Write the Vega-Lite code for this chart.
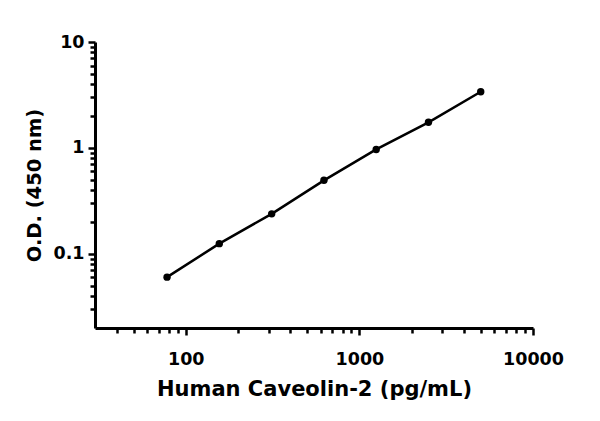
{
  "$schema": "https://vega.github.io/schema/vega-lite/v6.json",
  "autosize": {"type": "none"},
  "width": 438,
  "height": 286,
  "padding": {"left": 95, "top": 42, "right": 67, "bottom": 93},
  "background": "white",
  "config": {
    "view": {"stroke": null},
    "font": "DejaVu Sans"
  },
  "data": {
    "values": [
      {"conc": 78, "od": 0.0604},
      {"conc": 156, "od": 0.125},
      {"conc": 312.5, "od": 0.239},
      {"conc": 625, "od": 0.495},
      {"conc": 1250, "od": 0.968},
      {"conc": 2500, "od": 1.746},
      {"conc": 5000, "od": 3.39}
    ]
  },
  "encoding": {
    "x": {
      "field": "conc",
      "type": "quantitative",
      "title": "Human Caveolin-2 (pg/mL)",
      "scale": {"type": "log", "domain": [30, 10000], "nice": false},
      "axis": {
        "values": [40, 50, 60, 70, 80, 90, 100, 200, 300, 400, 500, 600, 700, 800, 900, 1000, 2000, 3000, 4000, 5000, 6000, 7000, 8000, 9000, 10000],
        "labelExpr": "indexof([100, 1000, 10000], datum.value) >= 0 ? format(datum.value, '~g') : ''",
        "labelOverlap": false,
        "labelBound": false,
        "labelFlush": false,
        "grid": false,
        "domainColor": "black",
        "domainWidth": 3,
        "tickColor": "black",
        "tickWidth": 2.5,
        "tickSize": {"condition": {"test": "indexof([100, 1000, 10000], datum.value) >= 0", "value": 7}, "value": 5},
        "labelPadding": 15,
        "labelFontSize": 17.5,
        "labelFontWeight": "bold",
        "labelColor": "black",
        "titleFontSize": 21,
        "titleFontWeight": "bold",
        "titleColor": "black",
        "titlePadding": 11
      }
    },
    "y": {
      "field": "od",
      "type": "quantitative",
      "title": "O.D. (450 nm)",
      "scale": {"type": "log", "domain": [0.02, 10], "nice": false},
      "axis": {
        "values": [0.03, 0.04, 0.05, 0.06, 0.07, 0.08, 0.09, 0.1, 0.2, 0.3, 0.4, 0.5, 0.6, 0.7, 0.8, 0.9, 1, 2, 3, 4, 5, 6, 7, 8, 9, 10],
        "labelExpr": "indexof([0.1, 1, 10], datum.value) >= 0 ? format(datum.value, '~g') : ''",
        "labelOverlap": false,
        "labelBound": false,
        "labelFlush": false,
        "grid": false,
        "domainColor": "black",
        "domainWidth": 3,
        "tickColor": "black",
        "tickWidth": 2.5,
        "tickSize": {"condition": {"test": "indexof([0.1, 1, 10], datum.value) >= 0", "value": 7}, "value": 5},
        "labelPadding": 4,
        "labelFontSize": 17.5,
        "labelFontWeight": "bold",
        "labelColor": "black",
        "titleFontSize": 19.5,
        "titleFontWeight": "bold",
        "titleColor": "black",
        "titlePadding": 8
      }
    }
  },
  "layer": [
    {
      "mark": {"type": "line", "color": "black", "strokeWidth": 2.5}
    },
    {
      "mark": {"type": "circle", "color": "black", "opacity": 1, "size": 55}
    }
  ]
}
